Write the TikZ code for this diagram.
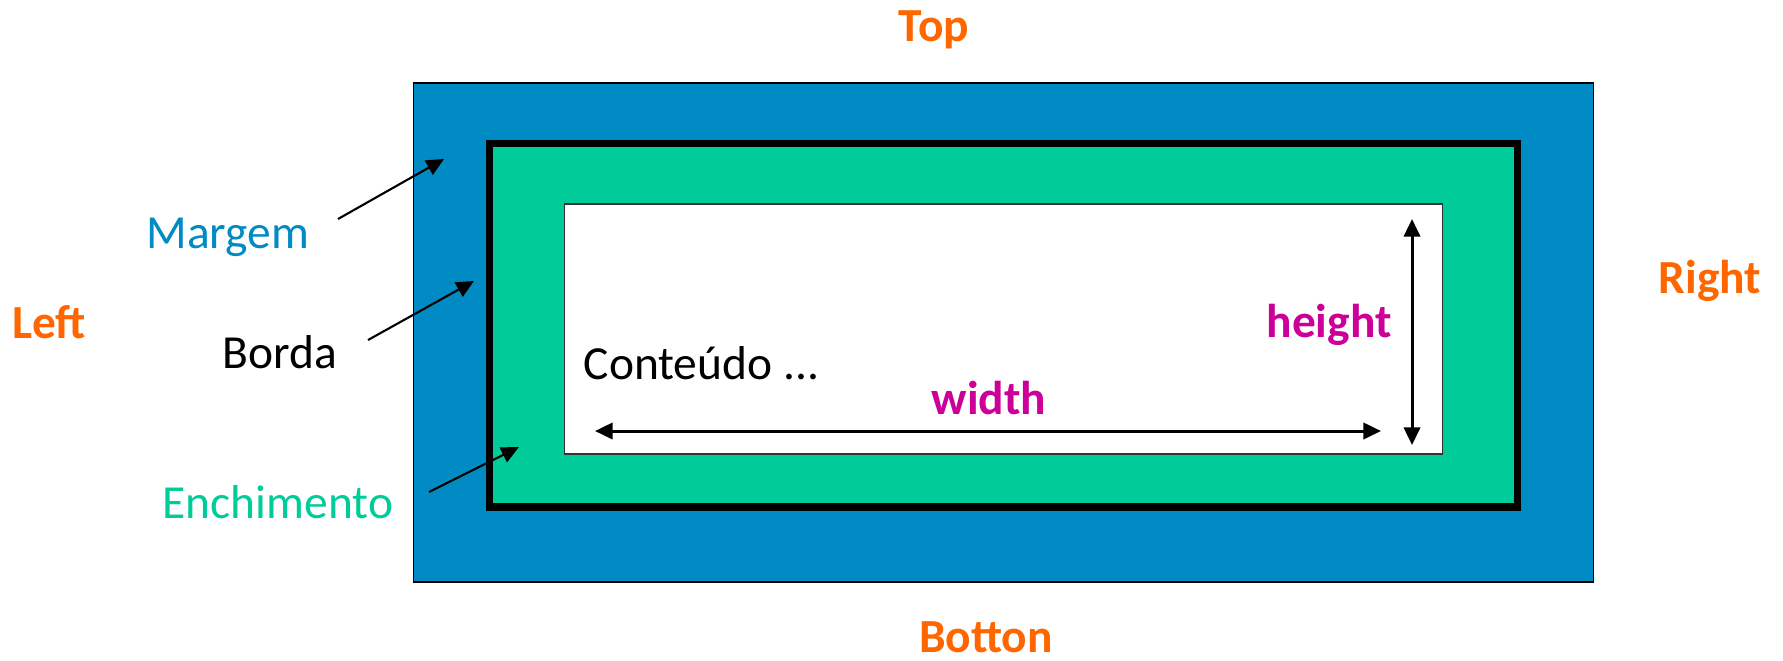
\documentclass[tikz,border=0pt]{standalone}
\usepackage{fontspec}
\setmainfont{Carlito}
\usetikzlibrary{positioning, arrows.meta}

\definecolor{margemblue}{RGB}{0,139,196}
\definecolor{enchgreen}{RGB}{0,204,153}
\definecolor{sideorange}{RGB}{255,102,0}
\definecolor{sizemagenta}{RGB}{204,0,153}

\begin{document}
\begin{tikzpicture}[x=0.01cm, y=-0.01cm, >={Triangle[length=5pt, width=4.6pt]},
    every node/.style={inner sep=0pt, font=\fontsize{13.5}{16}\selectfont},
    side/.style={text=sideorange, font=\fontsize{13.5}{16}\selectfont\bfseries, anchor=base},
    size/.style={text=sizemagenta, font=\fontsize{13.5}{16}\selectfont\bfseries, anchor=base},
    label/.style={anchor=base},
    leader/.style={->, line width=0.6pt},
    measure/.style={<->, line width=0.85pt}]
            \useasboundingbox (0,0) rectangle (1783,660);

            % caixas
            \node[draw, line width=0.4pt, fill=margemblue, minimum width=11.79cm, minimum height=4.99cm] (margin) at (1003.5,332.5) {};
            \node[draw, line width=2.1pt, fill=enchgreen, minimum width=10.275cm, minimum height=3.63cm] (border) at (1003.3,325.2) {};
            \node[draw=black!80, line width=0.4pt, fill=white, minimum width=8.77cm, minimum height=2.5cm] (content) at (1003.5,329) {};

            % lados
            \node[side] (top) at (934,41) {Top};
            \node[side] (bottom) at (986,652) {Botton};
            \node[side] (left) at (49,338) {Left};
            \node[side] (right) at (1710,293) {Right};

            % legendas
            \node[label, text=margemblue] (margem) at (228,248) {Margem};
            \node[label] (borda) at (279.5,368) {Borda};
            \node[label, text=enchgreen] (enchimento) at (278,518) {Enchimento};
            \node[label, anchor=base west] (conteudo) at (583,379) {Conteúdo ...};
            \node[size] (height) at (1329,337) {height};
            \node[size] (width) at (989,414) {width};

            \coordinate (margem from) at (338,219);
            \coordinate (margem to) at (444,159);
            \coordinate (borda from) at (368,340);
            \coordinate (borda to) at (474,281);
            \coordinate (ench from) at (429,492);
            \coordinate (ench to) at (519,447);
            \coordinate (width from) at (595,431);
            \coordinate (width to) at (1381,431);
            \coordinate (height from) at (1412,219);
            \coordinate (height to) at (1412,445);

            \path[leader]
              (margem from) edge (margem to)
              (borda from) edge (borda to)
              (ench from) edge (ench to)
            ;
            \path[measure]
              (width from) edge (width to)
              (height from) edge (height to)
            ;
          \end{tikzpicture}
\end{document}
